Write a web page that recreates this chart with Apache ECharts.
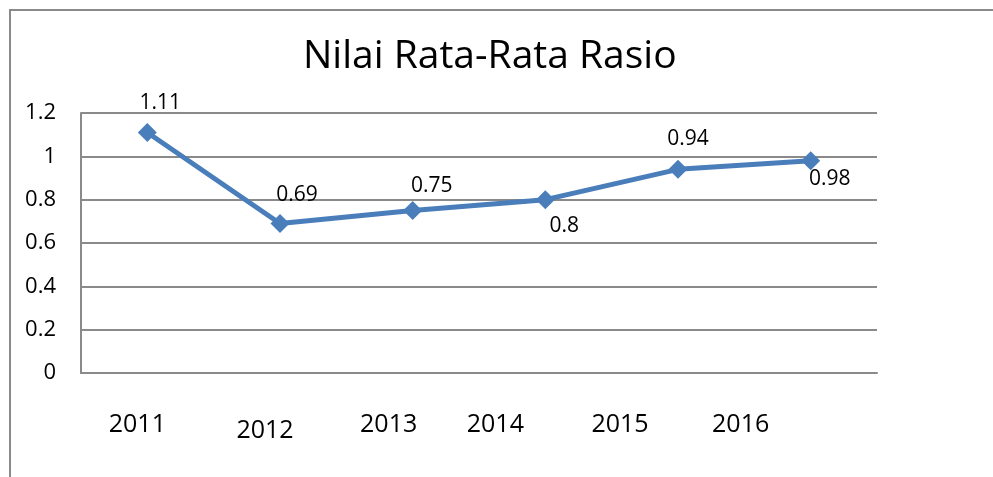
<!DOCTYPE html>
<html>
<head>
<meta charset="utf-8">
<script src="https://cdn.jsdelivr.net/npm/echarts@6/dist/echarts.min.js"></script>
<style>
  html, body { margin: 0; padding: 0; background: #fff; }
  #frame { position: absolute; left: 9px; top: 9px; width: 990px; height: 470px;
           border-left: 2px solid #8a8a8a; border-top: 2px solid #8a8a8a; }
  #chart { position: absolute; left: 0; top: 0; width: 993px; height: 477px; }
</style>
</head>
<body>
<div id="frame"></div>
<div id="chart"></div>
<script>
// ---- data ----
var chartTitle = 'Nilai Rata-Rata Rasio';
var categories = ['2011', '2012', '2013', '2014', '2015', '2016'];
var values = [1.11, 0.69, 0.75, 0.8, 0.94, 0.98];
var yTicks = { min: 0, max: 1.2, interval: 0.2 };

// ---- styling (label placement as in reference) ----
var xLabelShift = [-10, -15, -24, -50, -58, -70];
var xLabelDrop = [0, 3, 0, 0, 0, 0];
var dataLabelOffset = [[13, -29], [17, -28], [19, -24], [19, 26], [10, -30], [19, 18]];

var rich = {};
categories.forEach(function (c, i) {
  var s = xLabelShift[i];
  rich['c' + i] = {
    fontFamily: 'Open Sans', fontSize: 25, color: '#000',
    padding: [xLabelDrop[i] * 2, s < 0 ? -2 * s : 0, 0, s > 0 ? 2 * s : 0]
  };
});

var seriesData = values.map(function (v, i) {
  return {
    value: v,
    label: { show: true, position: 'inside', offset: dataLabelOffset[i] }
  };
});

var chart = echarts.init(document.getElementById('chart'), null, { renderer: 'canvas' });
chart.setOption({
  animation: false,
  backgroundColor: 'transparent',
  title: {
    text: chartTitle, left: 298, top: 32,
    textStyle: { fontFamily: 'Open Sans', fontSize: 39, fontWeight: 'normal', color: '#000' }
  },
  grid: { left: 81, right: 116, top: 113, bottom: 104, containLabel: false },
  xAxis: {
    type: 'category', data: categories, boundaryGap: true,
    axisLine: { show: true, lineStyle: { color: '#8a8a8a', width: 2 } },
    axisTick: { show: false },
    axisLabel: {
      margin: 39, interval: 0,
      formatter: function (val, idx) { return '{c' + idx + '|' + val + '}'; },
      rich: rich
    },
    splitLine: { show: false }
  },
  yAxis: {
    type: 'value', min: yTicks.min, max: yTicks.max, interval: yTicks.interval,
    axisLine: { show: true, lineStyle: { color: '#8a8a8a', width: 2 } },
    axisTick: { show: false },
    axisLabel: {
      margin: 25, fontFamily: 'Open Sans', fontSize: 22, color: '#000',
      formatter: function (v) { return String(Math.round(v * 10) / 10); }
    },
    splitLine: { show: true, lineStyle: { color: '#8a8a8a', width: 2 } }
  },
  series: [{
    type: 'line', data: seriesData,
    symbol: 'diamond', symbolSize: 19,
    lineStyle: { color: '#4A7EBB', width: 5 },
    itemStyle: { color: '#4A7EBB' },
    label: { fontFamily: 'Open Sans', fontSize: 21, color: '#000' },
    z: 3
  }]
});
</script>
</body>
</html>
